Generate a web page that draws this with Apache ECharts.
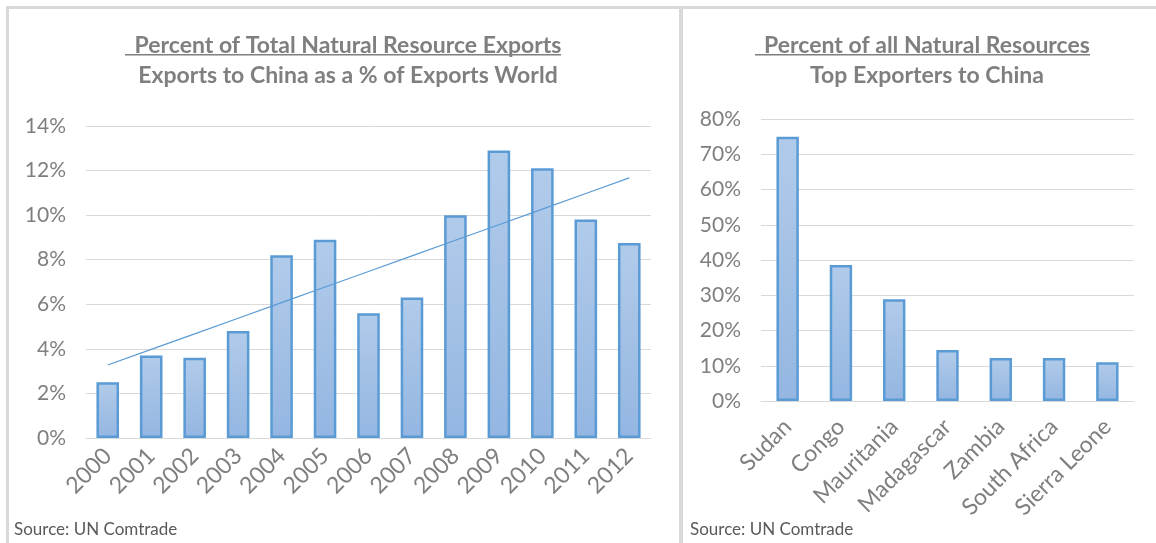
<!DOCTYPE html>
<html>
<head>
<meta charset="utf-8">
<style>
  html, body { margin: 0; padding: 0; background: #fff; }
  #chart { width: 1156px; height: 543px; }
</style>
<script src="https://cdn.jsdelivr.net/npm/echarts@6/dist/echarts.min.js"></script>
</head>
<body>
<div id="chart"></div>
<script>
// left chart: exports to China as a % of world exports
const years = ['2000', '2001', '2002', '2003', '2004', '2005', '2006',
  '2007', '2008', '2009', '2010', '2011', '2012']
const shareOfWorld = [2.5, 3.7, 3.6, 4.8, 8.2, 8.9, 5.6, 6.3, 10.0, 12.9, 12.1, 9.8, 8.75]

// right chart: top exporters to China
const countries = ['Sudan', 'Congo', 'Mauritania', 'Madagascar', 'Zambia', 'South Africa', 'Sierra Leone']
const shareOfResources = [75, 38.6, 28.9, 14.5, 12.2, 12.2, 11]

const leftTicks = [0, 2, 4, 6, 8, 10, 12, 14]
const rightTicks = [0, 10, 20, 30, 40, 50, 60, 70, 80]

// linear trendline, like excel does it
function trend(vals) {
  const n = vals.length
  const mx = (n - 1) / 2
  const my = vals.reduce((a, b) => a + b, 0) / n
  let sxy = 0, sxx = 0
  vals.forEach((v, i) => { sxy += (i - mx) * (v - my); sxx += (i - mx) * (i - mx) })
  const k = sxy / sxx
  return vals.map((v, i) => +(my + k * (i - mx)).toFixed(3))
}

const font = 'Lato, "Open Sans", sans-serif'
const grey = '#7f7f7f'
const gridColor = '#d9d9d9'
const barBlue = '#5b9bd5'

const barFill = new echarts.graphic.LinearGradient(0, 0, 0, 1, [
  { offset: 0, color: '#b1cbea' },
  { offset: 1, color: '#94b6e1' }
])

function yAxis(idx, ticks) {
  return {
    gridIndex: idx,
    type: 'value',
    min: ticks[0],
    max: ticks[ticks.length - 1],
    interval: ticks[1] - ticks[0],
    axisLine: { show: false },
    axisTick: { show: false },
    axisLabel: { color: grey, fontSize: 21, fontFamily: font, margin: 20, formatter: '{value}%' },
    splitLine: { lineStyle: { color: gridColor, width: 1 } }
  }
}

function xAxis(idx, cats, margin) {
  return {
    gridIndex: idx,
    type: 'category',
    data: cats,
    axisLine: { lineStyle: { color: gridColor, width: 1 } },
    axisTick: { show: false },
    axisLabel: { color: grey, fontSize: 23, fontFamily: font, rotate: 45, margin: margin, interval: 0 }
  }
}

const titleStyle = { color: grey, fontSize: 23, fontWeight: 'bold', fontFamily: font, lineHeight: 30 }

const chart = echarts.init(document.getElementById('chart'))

chart.setOption({
  backgroundColor: '#fff',
  animation: false,
  title: [
    {
      text: 'Percent of Total Natural Resource Exports\nExports to China as a % of Exports World',
      left: 343, top: 26, textAlign: 'center',
      textStyle: titleStyle
    },
    {
      text: 'Percent of all Natural Resources\nTop Exporters to China',
      left: 922, top: 26, textAlign: 'center',
      textStyle: titleStyle
    }
  ],
  grid: [
    { left: 86, right: 505, top: 126, bottom: 105 },
    { left: 761, right: 22, top: 119, bottom: 142 }
  ],
  xAxis: [xAxis(0, years, 14), xAxis(1, countries, 22)],
  yAxis: [yAxis(0, leftTicks), yAxis(1, rightTicks)],
  series: [
    {
      type: 'bar',
      xAxisIndex: 0, yAxisIndex: 0,
      data: shareOfWorld,
      barWidth: '52%',
      itemStyle: { color: barFill, borderColor: barBlue, borderWidth: 2.5 }
    },
    {
      type: 'line',
      xAxisIndex: 0, yAxisIndex: 0,
      data: trend(shareOfWorld),
      symbol: 'none',
      lineStyle: { color: barBlue, width: 1.2 },
      z: 3
    },
    {
      type: 'bar',
      xAxisIndex: 1, yAxisIndex: 1,
      data: shareOfResources,
      barWidth: '42%',
      itemStyle: { color: barFill, borderColor: barBlue, borderWidth: 2.5 }
    }
  ],
  graphic: [
    // panel borders
    { type: 'rect', shape: { x: 6, y: 6, width: 1150, height: 3 }, style: { fill: '#d9d9d9' } },
    { type: 'rect', shape: { x: 6, y: 6, width: 3, height: 537 }, style: { fill: '#d9d9d9' } },
    { type: 'rect', shape: { x: 679, y: 6, width: 4, height: 537 }, style: { fill: '#d9d9d9' } },
    // title underlines
    { type: 'rect', shape: { x: 125, y: 54, width: 436, height: 1.5 }, style: { fill: grey } },
    { type: 'rect', shape: { x: 755, y: 54, width: 335, height: 1.5 }, style: { fill: grey } },
    // sources
    { type: 'text', left: 14, top: 521, style: { text: 'Source: UN Comtrade', fill: '#595959', font: '17px ' + font } },
    { type: 'text', left: 690, top: 521, style: { text: 'Source: UN Comtrade', fill: '#595959', font: '17px ' + font } }
  ]
})
</script>
</body>
</html>
